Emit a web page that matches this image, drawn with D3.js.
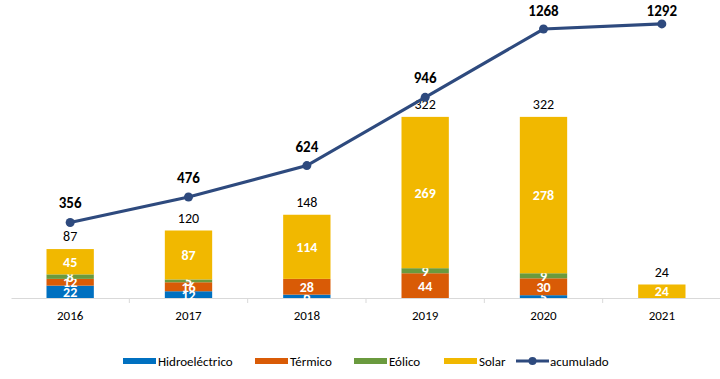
<!DOCTYPE html>
<html><head><meta charset="utf-8">
<script src="https://cdn.jsdelivr.net/npm/d3@7"></script>
<style>
body{margin:0;background:#fff;}
text{font-family:Carlito,Lato,"Open Sans",sans-serif;}
</style></head>
<body><svg id="c" width="720" height="379"></svg>
<script>
const years = ["2016","2017","2018","2019","2020","2021"];
const hidro = [22,12,6,0,5,0];
const termico = [12,16,28,44,30,0];
const eolico = [8,5,0,9,9,0];
const solar = [45,87,114,269,278,24];
const totals = [87,120,148,322,322,24];
const acumulado = [356,476,624,946,1268,1292];
const seriesNames = ["Hidroeléctrico","Térmico","Eólico","Solar"];
const lineName = "acumulado";
const colors = ["#0070C0","#D95B06","#6A9A3E","#F1B800"];
const lineColor = "#2E4A7E";

const svg = d3.select("#c");
const pLeft = 11, pRight = 721, pTop = 1, pBottom = 298;
const x = d3.scaleBand().domain(years).range([pLeft, pRight]).paddingInner(0.6).paddingOuter(0.3);
const y = d3.scaleLinear().domain([0, 528]).range([pBottom, pTop]);
const y2 = d3.scaleLinear().domain([0, 1400]).range([pBottom, pTop]);

const rows = years.map((yr,i)=>({year:yr, Hidroeléctrico:hidro[i], Térmico:termico[i], Eólico:eolico[i], Solar:solar[i]}));
const stack = d3.stack().keys(seriesNames)(rows);

// axis
const xAxis = d3.axisBottom(x).tickSize(0).tickPadding(13);
const ax = svg.append("g").attr("transform",`translate(0,${pBottom})`).call(xAxis);
ax.select(".domain").attr("stroke","#d9d9d9").attr("stroke-width",1);
ax.selectAll("text").attr("font-size",13).attr("fill","#000");
// boundary ticks
const step = x.step();
years.slice(1).forEach(yr=>{
  const bx = x(yr) + x.bandwidth()/2 - step/2;
  svg.append("line").attr("x1",bx).attr("x2",bx).attr("y1",pBottom).attr("y2",pBottom+5).attr("stroke","#d9d9d9");
});

// bars
stack.forEach((s,si)=>{
  const g = svg.append("g");
  g.selectAll("rect").data(s).join("rect")
    .attr("x",d=>x(d.data.year)).attr("width",x.bandwidth())
    .attr("y",d=>y(d[1])).attr("height",d=>y(d[0])-y(d[1]))
    .attr("fill",colors[si]);
  g.selectAll("text").data(s.filter(d=>d[1]-d[0]>0)).join("text")
    .attr("x",d=>x(d.data.year)+x.bandwidth()/2)
    .attr("y",d=>(y(d[0])+y(d[1]))/2+5)
    .attr("text-anchor","middle").attr("font-size",14).attr("font-weight","bold").attr("fill","#fff")
    .text(d=>d[1]-d[0]);
});

// totals
svg.append("g").selectAll("text").data(years).join("text")
  .attr("x",d=>x(d)+x.bandwidth()/2).attr("y",(d,i)=>y(totals[i])-8)
  .attr("text-anchor","middle").attr("font-size",14).attr("fill","#000")
  .text((d,i)=>totals[i]);

// line
const cx = d=>x(d)+x.bandwidth()/2;
const line = d3.line().x((d,i)=>cx(years[i])).y(d=>y2(d));
svg.append("path").datum(acumulado).attr("d",line).attr("fill","none").attr("stroke",lineColor).attr("stroke-width",3.2);
svg.append("g").selectAll("circle").data(acumulado).join("circle")
  .attr("cx",(d,i)=>cx(years[i])).attr("cy",d=>y2(d)).attr("r",4.5).attr("fill",lineColor);
svg.append("g").selectAll("text").data(acumulado).join("text")
  .attr("x",(d,i)=>cx(years[i])).attr("y",d=>Math.max(16, y2(d)-14))
  .attr("text-anchor","middle").attr("font-size",15).attr("font-weight","bold").attr("fill","#000")
  .text(d=>d);

// legend
const legX = [123,255,354,444];
const lg = svg.append("g");
seriesNames.forEach((n,i)=>{
  lg.append("rect").attr("x",legX[i]).attr("y",358).attr("width",33).attr("height",6).attr("fill",colors[i]);
  lg.append("text").attr("x",legX[i]+35).attr("y",366).attr("font-size",13).attr("fill","#000").text(n);
});
lg.append("line").attr("x1",516).attr("x2",549).attr("y1",361).attr("y2",361).attr("stroke",lineColor).attr("stroke-width",3);
lg.append("circle").attr("cx",532.5).attr("cy",361).attr("r",4).attr("fill",lineColor);
lg.append("text").attr("x",550).attr("y",366).attr("font-size",13).attr("fill","#000").text(lineName);
</script></body></html>
